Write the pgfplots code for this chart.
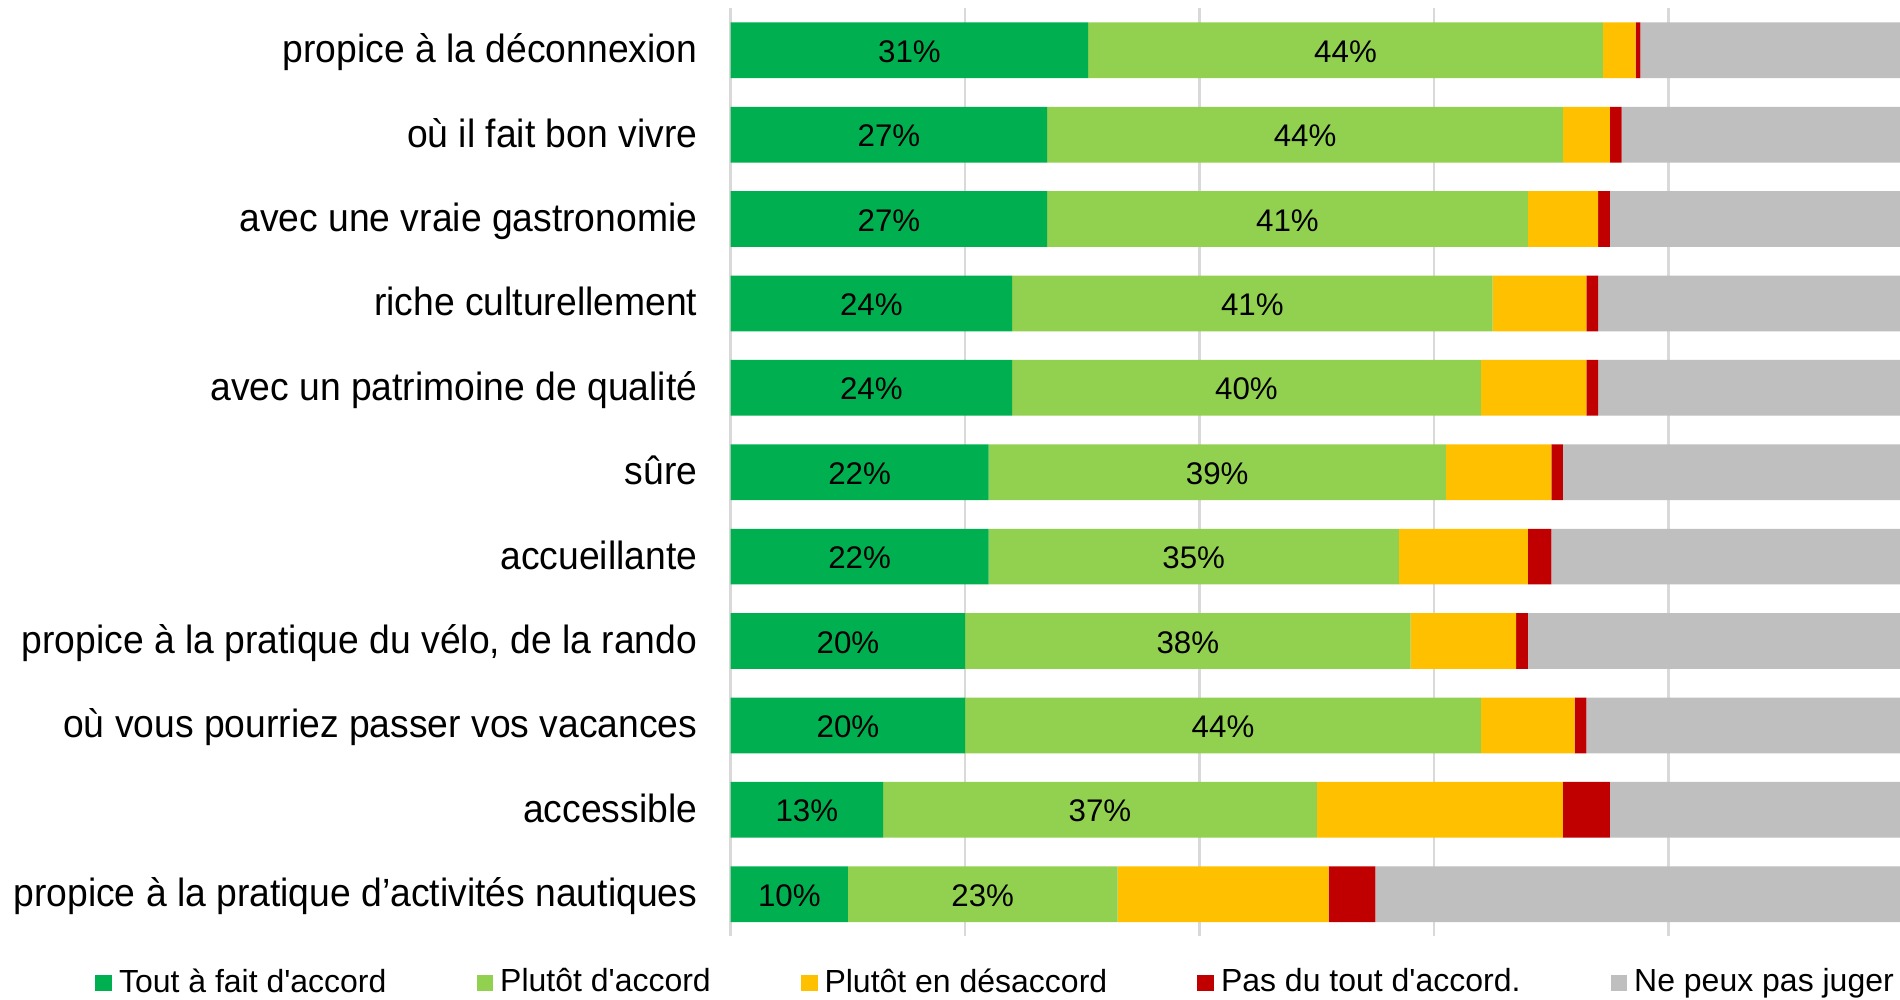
\documentclass[border=0pt]{standalone}
\usepackage{fontspec}
\setmainfont{Liberation Sans}
\newfontfamily\catfont{Liberation Sans}[FakeStretch=0.947]
\usepackage{pgfplots}
\usepackage{pgfplotstable}
\pgfplotsset{compat=1.18}
\definecolor{cg}{HTML}{00B050}
\definecolor{clg}{HTML}{92D050}
\definecolor{cy}{HTML}{FFC000}
\definecolor{cr}{HTML}{C00000}
\definecolor{cgr}{HTML}{BFBFBF}
\definecolor{gridc}{HTML}{D9D9D9}
\pgfplotstableread{
y g lg ye r gr gl lgl
10 30.5 43.9 2.8 0.4 22.4 31 44
9 27.0 44.0 4.0 1.0 24.0 27 44
8 27.0 41.0 6.0 1.0 25.0 27 41
7 24.0 41.0 8.0 1.0 26.0 24 41
6 24.0 40.0 9.0 1.0 26.0 24 40
5 22.0 39.0 9.0 1.0 29.0 22 39
4 22.0 35.0 11.0 2.0 30.0 22 35
3 20.0 38.0 9.0 1.0 32.0 20 38
2 20.0 44.0 8.0 1.0 27.0 20 44
1 13.0 37.0 21.0 4.0 25.0 13 37
0 10.0 23.0 18.0 4.0 45.0 10 23
}\data
\pgfplotsset{
  myleg/.style={legend image code/.code={\fill[##1] (0mm,-0.83mm) rectangle (1.67mm,0.83mm);}},
  lab/.style={point meta=explicit symbolic,
    nodes near coords={\pgfplotspointmeta\%},
    nodes near coords align=center,
    every node near coord/.append style={anchor=base, yshift=-1.2mm, font=\fontsize{8.9}{10}\selectfont, text=black, inner sep=0pt}},
}
\begin{document}
\begin{tikzpicture}
\path[use as bounding box] (0,0) rectangle (19cm,10cm);
\begin{axis}[
  at={(7.307cm,0.636cm)}, anchor=south west,
  scale only axis, width=11.693cm, height=9.283cm,
  xbar stacked, bar width=5.57mm,
  xmin=0, xmax=99.75, ymin=-0.5, ymax=10.5,
  xtick={0,20,40,60,80}, xticklabels={},
  xmajorgrids, major grid style={draw=gridc, line width=0.25mm},
  ytick={0,...,10},
  yticklabels={propice à la pratique d’activités nautiques, accessible, où vous pourriez passer vos vacances, {propice à la pratique du vélo, de la rando}, accueillante, sûre, avec un patrimoine de qualité, riche culturellement, avec une vraie gastronomie, où il fait bon vivre, propice à la déconnexion},
  axis line style={draw=none},
  major tick length=0pt,
  yticklabel style={font=\catfont\fontsize{11.2}{13}\selectfont, anchor=base east, inner sep=0pt, xshift=-3.27mm, yshift=-1.25mm},
  legend columns=5,
  legend style={at={(-0.544,-0.0502)}, anchor=west, draw=none, fill=none,
    font=\fontsize{9.1}{10}\selectfont, inner sep=0pt,
    /tikz/every even column/.append style={column sep=8.3mm}},
]
\addplot[fill=cg, draw=none, myleg, lab] table[x=g, y=y, meta=gl] {\data};
\addplot[fill=clg, draw=none, myleg, lab] table[x=lg, y=y, meta=lgl] {\data};
\addplot[fill=cy, draw=none, myleg] table[x=ye, y=y] {\data};
\addplot[fill=cr, draw=none, myleg] table[x=r, y=y] {\data};
\addplot[fill=cgr, draw=none, myleg] table[x=gr, y=y] {\data};
\legend{Tout à fait d\textquotesingle accord, Plutôt d\textquotesingle accord, Plutôt en désaccord, Pas du tout d\textquotesingle accord., Ne peux pas juger}
\end{axis}
\end{tikzpicture}
\end{document}
